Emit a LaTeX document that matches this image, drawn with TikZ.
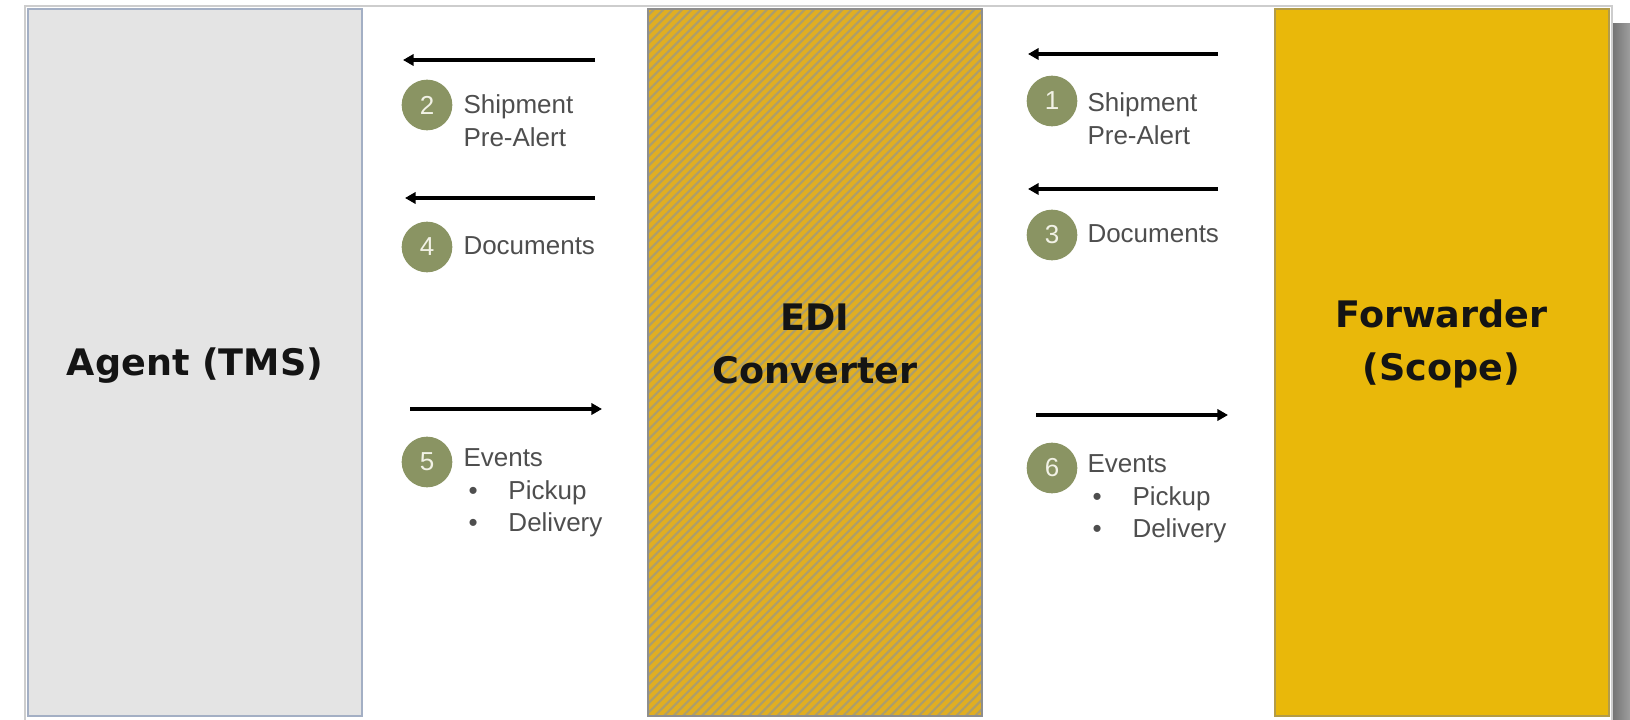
\documentclass[tikz,border=0pt]{standalone}
\usepackage{fontspec}
\setmainfont{Liberation Sans}
\newfontfamily\boxfont{DejaVu Sans}
\usetikzlibrary{arrows.meta,patterns.meta}

\definecolor{agentgray}{HTML}{E4E4E4}
\definecolor{agentline}{HTML}{A3AFC4}
\definecolor{ediyellow}{HTML}{E0AE22}
\definecolor{edistripe}{HTML}{AC9E6C}
\definecolor{ediline}{HTML}{8E8E8E}
\definecolor{fwdyellow}{HTML}{E9B80A}
\definecolor{fwdline}{HTML}{B39C48}
\definecolor{numolive}{HTML}{8A9463}
\definecolor{numwhite}{HTML}{F2F2E6}
\definecolor{labelgray}{HTML}{4E4E4E}
\definecolor{framegray}{HTML}{CDCDCD}

\newcommand\evitem[1]{\makebox[33.75pt][l]{\hspace*{3.75pt}\textbullet}#1}

\tikzset{every picture/.style={line width=0.75pt}}
\tikzset{
  sysbox/.style={rectangle, inner sep=0pt, outer sep=0pt, minimum width=250.5pt, minimum height=530.25pt, line width=1.5pt},
  sysname/.style={font=\boxfont\bfseries\fontsize{27.4}{39.75}\selectfont, align=center, text=black!92},
  numdot/.style={circle, fill=numolive, minimum size=38pt, inner sep=0pt, text=numwhite, font=\fontsize{19.5}{24}\selectfont},
  lbl/.style={anchor=west, inner sep=0pt, align=left, text=labelgray, font=\fontsize{19.5}{24.5}\selectfont},
  flowarrow/.style={line width=2.6pt, -{Triangle[length=8pt,width=8.5pt]}},
}

\begin{document}
\begin{tikzpicture}[x=0.75pt,y=0.75pt,yscale=-1,xscale=1]
\useasboundingbox (0,0) rectangle (1630,720);

%Frame and shadow
\shade [left color=black!55, right color=black!38] (1612,24) rectangle (1630,720);
\draw [framegray, line width=1.5pt] (25,730) -- (25,6) -- (1612,6) -- (1612,730);

%Shape: Rectangle
\node [sysbox, draw=agentline, fill=agentgray] (agent) at (195,362.5) {};
%Shape: Rectangle
\node [sysbox, draw=ediline, preaction={fill=ediyellow}, pattern={Lines[angle=45,distance=5pt,line width=1.6pt]}, pattern color=edistripe] (edi) at (815,362.5) {};
%Shape: Rectangle
\node [sysbox, draw=fwdline, fill=fwdyellow] (fwd) at (1441.5,362.5) {};

% Text Node
\node [sysname] (agentname) at (195,366) {Agent (TMS)};
% Text Node
\node [sysname] (ediname) at (815,344) {EDI\\Converter};
% Text Node
\node [sysname] (fwdname) at (1441.5,344) {Forwarder\\(Scope)};

%Straight Lines
\coordinate (a2s) at (595,60);  \coordinate (a2e) at (403,60);
\coordinate (a4s) at (595,198); \coordinate (a4e) at (405,198);
\coordinate (a5s) at (410,409); \coordinate (a5e) at (602,409);
\coordinate (a1s) at (1218,54);  \coordinate (a1e) at (1028,54);
\coordinate (a3s) at (1218,189); \coordinate (a3e) at (1028,189);
\coordinate (a6s) at (1036,415); \coordinate (a6e) at (1228,415);
\draw [flowarrow] (a2s) -- (a2e);
\draw [flowarrow] (a4s) -- (a4e);
\draw [flowarrow] (a5s) -- (a5e);
\draw [flowarrow] (a1s) -- (a1e);
\draw [flowarrow] (a3s) -- (a3e);
\draw [flowarrow] (a6s) -- (a6e);

% Step numbers
\node [numdot] (n2) at (427,105) {2};
\node [numdot] (n4) at (427,247) {4};
\node [numdot] (n5) at (427,462) {5};
\node [numdot] (n1) at (1052,101) {1};
\node [numdot] (n3) at (1052,235) {3};
\node [numdot] (n6) at (1052,468) {6};

% Text Node
\node [lbl] (l2) at (463,121) {Shipment\\Pre-Alert};
\node [lbl] (l4) at (463,246) {Documents};
\node [lbl] (l5) at (463,493) {Events\\\evitem{Pickup}\\\evitem{Delivery}};
\node [lbl] (l1) at (1087,119) {Shipment\\Pre-Alert};
\node [lbl] (l3) at (1087,234) {Documents};
\node [lbl] (l6) at (1087,499) {Events\\\evitem{Pickup}\\\evitem{Delivery}};

\end{tikzpicture}
\end{document}
